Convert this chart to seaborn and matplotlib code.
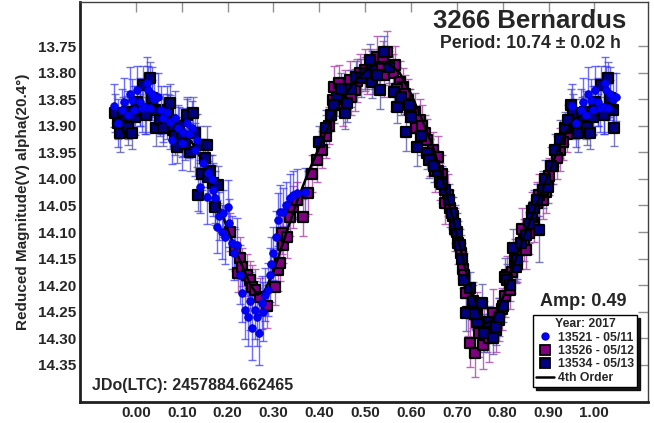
import matplotlib
matplotlib.use("Agg")
import matplotlib.pyplot as plt
from matplotlib.lines import Line2D
import pandas as pd
import seaborn as sns

# ---- session 13521 (2017-05/11): rotational phase, reduced magnitude, error ----
s13521_phase = [0.952, 0.960, 0.970, 0.982, 0.992, 0.002, 0.013, 0.020, 0.024, 0.026,
                0.030, 0.040, 0.048, 0.060, 0.074, 0.078, 0.085, 0.092, 0.100, 0.102,
                0.111, 0.122, 0.133, 0.139, 0.146, 0.155, 0.157, 0.165, 0.172, 0.176,
                0.182, 0.187, 0.194, 0.200, 0.203, 0.210, 0.220, 0.231, 0.237, 0.244,
                0.253, 0.259, 0.264, 0.274, 0.281, 0.288, 0.292, 0.299, 0.310, 0.314,
                0.320, 0.336, 0.351, 0.368,
                0.008, 0.035, 0.054, 0.068, 0.115, 0.128, 0.168, 0.190, 0.215, 0.226,
                0.248, 0.268, 0.278, 0.295, 0.305, 0.328, 0.343, 0.975, 0.987, 0.996]
s13521_mag = [13.862, 13.895, 13.870, 13.880, 13.852, 13.833, 13.867, 13.865, 13.820, 13.833,
              13.867, 13.850, 13.846, 13.885, 13.893, 13.927, 13.885, 13.905, 13.933, 13.912,
              13.895, 13.904, 13.927, 14.015, 13.970, 14.034, 13.989, 14.000, 14.036, 14.090,
              14.070, 14.100, 14.110, 14.053, 14.083, 14.120, 14.124, 14.215, 14.247, 14.260,
              14.280, 14.247, 14.260, 14.233, 14.218, 14.209, 14.181, 14.140, 14.077, 14.062,
              14.062, 14.036, 14.026, 14.025,
              13.855, 13.840, 13.870, 13.875, 13.915, 13.945, 14.020, 14.065, 14.140, 14.180,
              14.230, 14.290, 14.250, 14.160, 14.110, 14.050, 14.030, 13.855, 13.840, 13.870]
s13521_err = [0.040, 0.045, 0.040, 0.045, 0.040, 0.045, 0.045, 0.050, 0.050, 0.045,
              0.045, 0.050, 0.045, 0.045, 0.050, 0.045, 0.050, 0.045, 0.050, 0.045,
              0.050, 0.050, 0.050, 0.050, 0.045, 0.050, 0.050, 0.045, 0.050, 0.050,
              0.045, 0.050, 0.050, 0.050, 0.045, 0.050, 0.050, 0.055, 0.055, 0.055,
              0.060, 0.055, 0.055, 0.050, 0.050, 0.050, 0.050, 0.050, 0.050, 0.050,
              0.045, 0.045, 0.045, 0.045,
              0.045, 0.050, 0.045, 0.050, 0.045, 0.050, 0.050, 0.045, 0.050, 0.055,
              0.055, 0.060, 0.055, 0.050, 0.050, 0.045, 0.045, 0.045, 0.050, 0.045]

# ---- session 13526 (2017-05/12) ----
s13526_phase = [0.205, 0.216, 0.222, 0.227, 0.231, 0.242, 0.248, 0.253, 0.259, 0.270,
                0.285, 0.303, 0.310, 0.314, 0.318, 0.320, 0.329, 0.336, 0.342, 0.351,
                0.364, 0.375, 0.385, 0.395, 0.405, 0.415, 0.422, 0.430, 0.433, 0.444,
                0.452, 0.466, 0.477, 0.488, 0.499, 0.512, 0.525, 0.538, 0.547, 0.553,
                0.560, 0.575, 0.582, 0.593, 0.608, 0.619, 0.630, 0.636, 0.647, 0.658,
                0.668, 0.680, 0.692, 0.703, 0.713, 0.720, 0.728, 0.735, 0.739, 0.743,
                0.756, 0.765, 0.778, 0.793, 0.805, 0.815, 0.826, 0.837, 0.847, 0.851,
                0.858, 0.869, 0.874, 0.887, 0.895, 0.910, 0.925, 0.940,
                0.455, 0.470, 0.483, 0.505, 0.518, 0.530, 0.542, 0.565, 0.570, 0.588,
                0.598, 0.612, 0.625, 0.642, 0.652, 0.663, 0.675, 0.686, 0.697, 0.708,
                0.716, 0.724, 0.748, 0.760, 0.771, 0.785, 0.798, 0.810, 0.820, 0.832,
                0.842, 0.865, 0.880, 0.902, 0.918, 0.932]
s13526_mag = [14.100, 14.134, 14.177, 14.149, 14.166, 14.181, 14.190, 14.203, 14.209, 14.222,
              14.240, 14.203, 14.171, 14.158, 14.102, 14.124, 14.109, 14.072, 14.053, 14.040,
              14.072, 14.026, 13.990, 13.965, 13.945, 13.920, 13.900, 13.852, 13.827, 13.820,
              13.860, 13.814, 13.833, 13.800, 13.795, 13.790, 13.771, 13.776, 13.761, 13.789,
              13.800, 13.818, 13.827, 13.852, 13.874, 13.889, 13.914, 13.927, 13.946, 13.959,
              13.990, 14.030, 14.070, 14.120, 14.170, 14.215, 14.309, 14.240, 14.327, 14.252,
              14.312, 14.285, 14.252, 14.265, 14.220, 14.209, 14.153, 14.134, 14.115, 14.134,
              14.102, 14.083, 14.045, 14.040, 14.025, 13.975, 13.945, 13.915,
              13.835, 13.845, 13.815, 13.805, 13.800, 13.790, 13.805, 13.785, 13.830, 13.840,
              13.870, 13.905, 13.900, 13.960, 13.985, 14.005, 14.045, 14.055, 14.095, 14.140,
              14.180, 14.250, 14.290, 14.270, 14.300, 14.285, 14.245, 14.180, 14.175, 14.160,
              14.095, 14.060, 14.030, 13.995, 13.960, 13.930]
s13526_err = [0.035, 0.040, 0.035, 0.040, 0.035, 0.040, 0.035, 0.040, 0.040, 0.035,
              0.040, 0.035, 0.040, 0.035, 0.040, 0.035, 0.040, 0.035, 0.040, 0.035,
              0.035, 0.040, 0.035, 0.040, 0.035, 0.040, 0.035, 0.035, 0.040, 0.035,
              0.040, 0.035, 0.040, 0.035, 0.040, 0.035, 0.040, 0.035, 0.040, 0.035,
              0.035, 0.040, 0.035, 0.040, 0.035, 0.040, 0.035, 0.040, 0.035, 0.040,
              0.035, 0.040, 0.035, 0.040, 0.035, 0.040, 0.045, 0.040, 0.045, 0.040,
              0.045, 0.040, 0.045, 0.040, 0.040, 0.035, 0.040, 0.035, 0.040, 0.035,
              0.040, 0.035, 0.040, 0.035, 0.040, 0.035, 0.040, 0.035,
              0.040, 0.035, 0.040, 0.035, 0.040, 0.035, 0.040, 0.035, 0.040, 0.035,
              0.040, 0.035, 0.040, 0.035, 0.040, 0.035, 0.040, 0.035, 0.040, 0.035,
              0.040, 0.045, 0.045, 0.040, 0.045, 0.040, 0.040, 0.035, 0.040, 0.035,
              0.040, 0.035, 0.040, 0.035, 0.040, 0.035]

# ---- session 13534 (2017-05/13) ----
s13534_phase = [0.400, 0.415, 0.425, 0.438, 0.455, 0.460, 0.481, 0.492, 0.510, 0.514,
                0.516, 0.532, 0.542, 0.564, 0.569, 0.590, 0.601, 0.614, 0.634, 0.640,
                0.660, 0.675, 0.690, 0.700, 0.712, 0.721, 0.728, 0.735, 0.745, 0.754,
                0.771, 0.786, 0.800, 0.804, 0.810, 0.822, 0.830, 0.832, 0.863, 0.869,
                0.880, 0.887, 0.898, 0.905, 0.915, 0.925, 0.935, 0.948, 0.954, 0.961,
                0.965, 0.980, 0.983, 0.991, 0.998, 0.002, 0.015, 0.030, 0.035, 0.041,
                0.043, 0.052, 0.059, 0.070, 0.074, 0.081, 0.085, 0.089, 0.100, 0.111,
                0.118, 0.124, 0.129, 0.135, 0.139, 0.144, 0.155, 0.157, 0.168, 0.172,
                0.179,
                0.432, 0.447, 0.470, 0.500, 0.525, 0.552, 0.578, 0.596, 0.622, 0.650,
                0.668, 0.683, 0.695, 0.706, 0.716, 0.740, 0.760, 0.778, 0.792, 0.815,
                0.840, 0.850, 0.858, 0.875, 0.892, 0.942, 0.972, 0.008, 0.022, 0.064,
                0.095, 0.106, 0.150, 0.162]
s13534_mag = [13.930, 13.905, 13.880, 13.846, 13.876, 13.857, 13.808, 13.810, 13.776, 13.795,
              13.818, 13.833, 13.761, 13.837, 13.865, 13.912, 13.884, 13.940, 13.951, 13.964,
              13.985, 14.020, 14.065, 14.100, 14.150, 14.252, 14.205, 14.230, 14.270, 14.233,
              14.270, 14.278, 14.240, 14.184, 14.190, 14.130, 14.166, 14.153, 14.072, 14.055,
              14.096, 14.020, 14.015, 13.975, 13.945, 13.925, 13.905, 13.861, 13.876, 13.895,
              13.914, 13.874, 13.902, 13.914, 13.883, 13.855, 13.823, 13.810, 13.848, 13.870,
              13.904, 13.889, 13.904, 13.870, 13.857, 13.908, 13.920, 13.940, 13.923, 13.880,
              13.950, 13.876, 13.914, 14.030, 13.936, 13.990, 13.936, 13.996, 14.008, 14.053,
              14.011,
              13.860, 13.830, 13.830, 13.800, 13.805, 13.790, 13.845, 13.860, 13.920, 13.975,
              14.010, 14.040, 14.085, 14.125, 14.190, 14.255, 14.290, 14.300, 14.260, 14.200,
              14.120, 14.105, 14.085, 14.040, 14.000, 13.890, 13.880, 13.870, 13.880, 13.880,
              13.900, 13.935, 13.960, 13.985]
s13534_err = [0.030, 0.035, 0.030, 0.035, 0.030, 0.035, 0.030, 0.035, 0.030, 0.035,
              0.030, 0.035, 0.030, 0.035, 0.030, 0.035, 0.030, 0.035, 0.030, 0.035,
              0.030, 0.035, 0.030, 0.035, 0.030, 0.035, 0.030, 0.035, 0.030, 0.035,
              0.030, 0.035, 0.030, 0.035, 0.030, 0.035, 0.030, 0.035, 0.030, 0.035,
              0.060, 0.035, 0.030, 0.035, 0.030, 0.035, 0.030, 0.030, 0.035, 0.030,
              0.035, 0.030, 0.035, 0.030, 0.035, 0.030, 0.035, 0.030, 0.035, 0.030,
              0.035, 0.030, 0.035, 0.030, 0.035, 0.030, 0.035, 0.030, 0.035, 0.030,
              0.035, 0.030, 0.035, 0.030, 0.035, 0.030, 0.035, 0.030, 0.035, 0.030,
              0.035,
              0.035, 0.030, 0.035, 0.030, 0.035, 0.030, 0.035, 0.030, 0.035, 0.030,
              0.035, 0.030, 0.035, 0.030, 0.035, 0.030, 0.035, 0.030, 0.035, 0.030,
              0.035, 0.030, 0.035, 0.030, 0.035, 0.030, 0.035, 0.030, 0.035, 0.030,
              0.035, 0.030, 0.035, 0.030]

# ---- 4th order Fourier model curve ----
fit_phase = [-0.05, -0.025, 0.0, 0.025, 0.05, 0.075, 0.1, 0.125, 0.15, 0.175, 0.2, 0.225,
             0.25, 0.265, 0.28, 0.3, 0.325, 0.35, 0.375, 0.4, 0.425, 0.45, 0.475, 0.5,
             0.525, 0.55, 0.575, 0.6, 0.625, 0.65, 0.675, 0.7, 0.725, 0.75, 0.765, 0.78,
             0.8, 0.825, 0.85, 0.875, 0.9, 0.925, 0.95, 0.975, 1.0, 1.025, 1.05]
fit_mag = [13.895, 13.878, 13.868, 13.860, 13.866, 13.882, 13.905, 13.935, 13.975, 14.035,
           14.095, 14.150, 14.200, 14.218, 14.212, 14.175, 14.110, 14.045, 13.990, 13.940,
           13.890, 13.850, 13.818, 13.797, 13.783, 13.782, 13.800, 13.840, 13.890, 13.945,
           14.020, 14.105, 14.190, 14.255, 14.272, 14.262, 14.225, 14.160, 14.100, 14.045,
           13.990, 13.935, 13.895, 13.878, 13.868, 13.860, 13.866]

x_ticks = [0.0, 0.1, 0.2, 0.3, 0.4, 0.5, 0.6, 0.7, 0.8, 0.9, 1.0]
y_ticks = [13.75, 13.80, 13.85, 13.90, 13.95, 14.00, 14.05, 14.10, 14.15, 14.20, 14.25, 14.30, 14.35]


def wrapped(phase, mag, err):
    """Repeat points near phase 0/1 so the plot runs from -0.05 to 1.05."""
    rows = []
    for p, m, e in zip(phase, mag, err):
        rows.append((p, m, e))
        if p + 1 <= 1.05:
            rows.append((p + 1, m, e))
        if p - 1 >= -0.05:
            rows.append((p - 1, m, e))
    return pd.DataFrame(rows, columns=["phase", "mag", "err"])


sns.set_theme(style="white")
plt.rcParams["font.family"] = ["Liberation Sans", "DejaVu Sans"]
plt.rcParams["font.weight"] = "bold"

W, H = 654, 423
fig = plt.figure(figsize=(W / 100, H / 100), dpi=100)
ax = fig.add_axes([80 / W, 1 - 402 / H, 568 / W, 400 / H])

d21 = wrapped(s13521_phase, s13521_mag, s13521_err)
d26 = wrapped(s13526_phase, s13526_mag, s13526_err)
d34 = wrapped(s13534_phase, s13534_mag, s13534_err)

# error bars
ax.errorbar(d26.phase, d26.mag, yerr=d26.err, fmt="none", ecolor="#b050b0",
            elinewidth=1.0, capsize=3, capthick=1.0, alpha=0.85, zorder=1)
ax.errorbar(d34.phase, d34.mag, yerr=d34.err, fmt="none", ecolor="#5a5ab0",
            elinewidth=1.0, capsize=3, capthick=1.0, alpha=0.8, zorder=1)
ax.errorbar(d21.phase, d21.mag, yerr=d21.err, fmt="none", ecolor="#3030ff",
            elinewidth=1.0, capsize=3, capthick=1.0, alpha=0.7, zorder=1)

# markers
sns.scatterplot(data=d26, x="phase", y="mag", marker="s", s=60, color="#800080",
                edgecolor="black", linewidth=1.6, ax=ax, zorder=3)
sns.scatterplot(data=d34, x="phase", y="mag", marker="s", s=60, color="#000080",
                edgecolor="black", linewidth=1.6, ax=ax, zorder=3)
sns.lineplot(x=fit_phase, y=fit_mag, color="black", linewidth=1.8, sort=False,
             ax=ax, zorder=4)
sns.scatterplot(data=d21, x="phase", y="mag", marker="o", s=30, color="#0000ff",
                edgecolor="#0000c0", linewidth=0.6, ax=ax, zorder=5)

ax.set_xlim(-0.122, 1.117)
ax.set_ylim(14.42, 13.667)
ax.set_xticks(x_ticks)
ax.set_xticklabels([f"{t:.2f}" for t in x_ticks], fontsize=11, fontweight="bold")
ax.set_yticks(y_ticks)
ax.set_yticklabels([f"{t:.2f}" for t in y_ticks], fontsize=11, fontweight="bold")
ax.tick_params(direction="in", length=7, width=1, color="#909090",
               top=True, right=True, pad=3)
ax.set_xlabel("")
ax.set_ylabel("Reduced Magnitude(V) alpha(20.4°)", fontsize=11, fontweight="bold")
ax.yaxis.set_label_coords(-0.088, 0.5)

for side in ("left", "bottom"):
    ax.spines[side].set_linewidth(2.0)
    ax.spines[side].set_color("#202020")
for side in ("top", "right"):
    ax.spines[side].set_linewidth(1.0)
    ax.spines[side].set_color("#404040")


def px(x, y):
    return x / W, 1 - y / H


fig.text(*px(530, 21), "3266 Bernardus", fontsize=18.5, fontweight="bold",
         ha="center", va="center")
fig.text(*px(530, 44), "Period: 10.74 ± 0.02 h", fontsize=12.8, fontweight="bold",
         ha="center", va="center")
fig.text(*px(583, 301), "Amp: 0.49", fontsize=13, fontweight="bold",
         ha="center", va="center")
fig.text(*px(92, 385), "JDo(LTC): 2457884.662465", fontsize=11.5, fontweight="bold",
         ha="left", va="center")

handles = [
    Line2D([], [], ls="none", marker="o", markersize=5, color="#0000ff", markeredgecolor="#0000c0"),
    Line2D([], [], ls="none", marker="s", markersize=7, color="#800080", markeredgecolor="black", markeredgewidth=1.3),
    Line2D([], [], ls="none", marker="s", markersize=7, color="#000080", markeredgecolor="black", markeredgewidth=1.3),
    Line2D([], [], color="black", linewidth=1.8),
]
labels = ["13521 - 05/11", "13526 - 05/12", "13534 - 05/13", "4th Order"]
leg = ax.legend(handles, labels, title="Year: 2017", loc="upper left",
                bbox_to_anchor=px(533, 315), bbox_transform=fig.transFigure,
                borderaxespad=0, borderpad=0.25, labelspacing=0.12,
                handlelength=1.5, handletextpad=0.3, fancybox=False,
                shadow={"color": "black", "alpha": 0.9},
                prop={"size": 8.8, "weight": "bold"},
                title_fontproperties={"size": 8.8, "weight": "bold"},
                framealpha=1, edgecolor="black")
leg.get_frame().set_linewidth(1.0)
leg.set_zorder(10)

fig.savefig("out.png", dpi=100)
